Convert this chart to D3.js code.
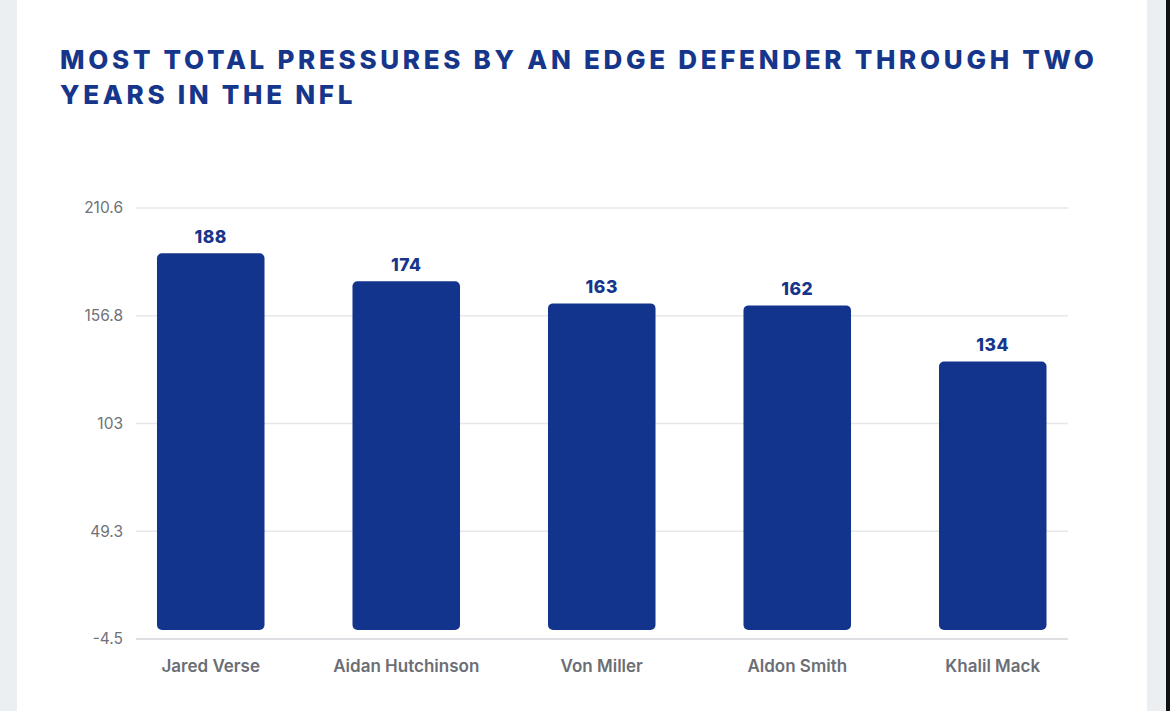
<!DOCTYPE html>
<html>
<head>
<meta charset="utf-8">
<script src="https://cdn.jsdelivr.net/npm/d3@7"></script>
<style>
  html, body { margin: 0; padding: 0; background: #eceff1; }
  svg { display: block; }
</style>
</head>
<body>
<div id="chart"></div>
<script>
// canvas size
const canvWidth = 1170, canvHeight = 711;

// chart data
const titleLines = ["MOST TOTAL PRESSURES BY AN EDGE DEFENDER THROUGH TWO", "YEARS IN THE NFL"];
const players = ["Jared Verse", "Aidan Hutchinson", "Von Miller", "Aldon Smith", "Khalil Mack"];
const pressures = [188, 174, 163, 162, 134];
const yTicks = [-4.5, 49.3, 103, 156.8, 210.6];

const svg = d3.select("#chart").append("svg")
    .attr("width", canvWidth)
    .attr("height", canvHeight);

// page background + white card
svg.append("rect").attr("width", canvWidth).attr("height", canvHeight).attr("fill", "#eceff1");
svg.append("rect").attr("x", 17).attr("y", 0).attr("width", 1130).attr("height", canvHeight).attr("fill", "#ffffff");
svg.append("rect").attr("x", 1166).attr("y", 0).attr("width", 4).attr("height", canvHeight).attr("fill", "#111");

// title
const title = svg.append("text")
    .attr("x", 60)
    .attr("y", 69)
    .style("font-family", "Inter, 'Noto Sans', sans-serif")
    .style("font-weight", 800)
    .style("font-size", "26px")
    .style("letter-spacing", "3.7px")
    .attr("fill", "#16368c");
title.selectAll("tspan")
    .data(titleLines)
    .join("tspan")
      .attr("x", 60)
      .attr("dy", (d, i) => i === 0 ? 0 : 35)
      .text(d => d);

// scales
const x = d3.scaleBand()
    .domain(players)
    .range([113, 1090.5])
    .paddingInner(0.45)
    .paddingOuter(0.225);

const y = d3.scaleLinear()
    .domain([-4.5, 210.6])
    .range([639, 208]);

// grid lines
const g = svg.append("g");
g.selectAll("line.grid")
    .data(yTicks)
    .join("line")
      .attr("class", "grid")
      .attr("x1", 136)
      .attr("x2", 1068)
      .attr("y1", d => y(d))
      .attr("y2", d => y(d))
      .attr("stroke", (d, i) => i === 0 ? "#d2d4d8" : "#e6e7ea")
      .attr("stroke-width", 1.5);

// y tick labels
g.selectAll("text.ytick")
    .data(yTicks)
    .join("text")
      .attr("class", "ytick")
      .attr("x", 123)
      .attr("y", d => y(d))
      .attr("dy", "0.35em")
      .attr("text-anchor", "end")
      .style("font-family", "Inter, 'Noto Sans', sans-serif")
      .style("font-size", "15.5px")
      .attr("fill", "#6f7178")
      .text(d => d);

// bars
g.selectAll("rect.bar")
    .data(pressures)
    .join("rect")
      .attr("class", "bar")
      .attr("x", (d, i) => x(players[i]))
      .attr("width", x.bandwidth())
      .attr("y", d => y(d))
      .attr("height", d => y(0) - y(d))
      .attr("rx", 5)
      .attr("fill", "#13348c");

// value labels
g.selectAll("text.value")
    .data(pressures)
    .join("text")
      .attr("class", "value")
      .attr("x", (d, i) => x(players[i]) + x.bandwidth() / 2)
      .attr("y", d => y(d) - 10)
      .attr("text-anchor", "middle")
      .style("font-family", "Inter, 'Noto Sans', sans-serif")
      .style("font-weight", 800)
      .style("font-size", "17.5px")
      .style("letter-spacing", "0.5px")
      .attr("fill", "#16368c")
      .text(d => d);

// x labels
g.selectAll("text.xlab")
    .data(players)
    .join("text")
      .attr("class", "xlab")
      .attr("x", d => x(d) + x.bandwidth() / 2)
      .attr("y", 672)
      .attr("text-anchor", "middle")
      .style("font-family", "Inter, 'Noto Sans', sans-serif")
      .style("font-weight", 600)
      .style("font-size", "17px")
      .attr("fill", "#6c6e75")
      .text(d => d);
</script>
</body>
</html>
